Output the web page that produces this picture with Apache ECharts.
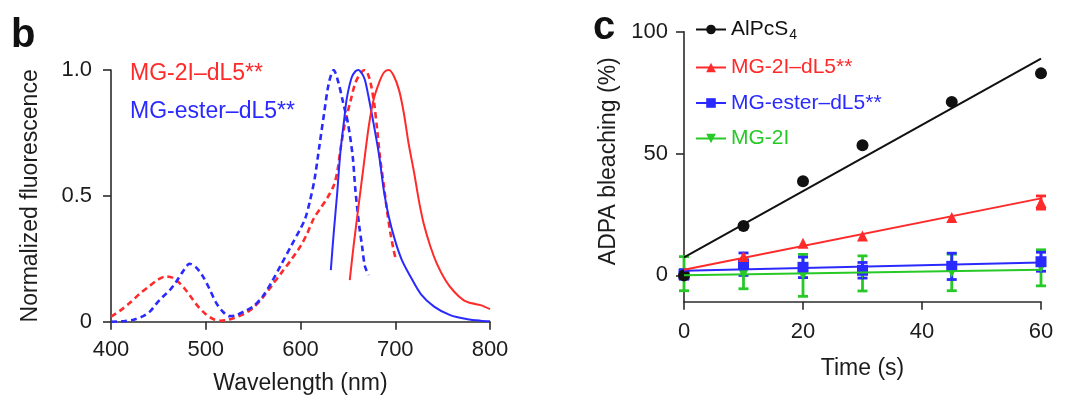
<!DOCTYPE html>
<html>
<head>
<meta charset="utf-8">
<script src="https://cdn.jsdelivr.net/npm/echarts@6.0.0/dist/echarts.min.js"></script>
<style>
  html, body { margin: 0; padding: 0; background: #fff; }
  #chart { width: 1080px; height: 401px; }
</style>
</head>
<body>
<div id="chart"></div>
<script>
// ---- panel b: normalized spectra, [wavelength (nm), value] ----
const ex2I = [[400,0.02],[410,0.045],[420,0.075],[430,0.11],[440,0.14],[450,0.168],[458,0.18],[465,0.175],[470,0.162],[478,0.13],[485,0.095],[492,0.06],[500,0.03],[508,0.01],[515,0.004],[522,0.006],[530,0.015],[540,0.03],[550,0.055],[560,0.095],[570,0.145],[580,0.195],[590,0.245],[600,0.30],[607,0.35],[614,0.41],[621,0.45],[628,0.49],[635,0.54],[639,0.60],[642,0.68],[647,0.79],[653,0.88],[658,0.95],[664,0.99],[668,1.0],[672,0.975],[675,0.93],[678,0.86],[681,0.76],[684,0.65],[688,0.54],[691,0.45],[695,0.35],[698,0.29],[701,0.24]];
const em2I = [[652,0.165],[656,0.30],[661.6,0.47],[667,0.63],[672,0.775],[677,0.88],[683,0.95],[688,0.99],[693,1.0],[698,0.98],[704,0.92],[709,0.83],[714,0.71],[720,0.59],[725,0.48],[730,0.39],[737,0.30],[744,0.23],[753,0.165],[762,0.12],[772,0.086],[781,0.073],[790,0.066],[800,0.05]];
const exEster = [[400,0],[413,0.002],[424,0.008],[434,0.022],[441,0.04],[448,0.072],[455,0.10],[462,0.125],[469,0.16],[476,0.20],[483,0.23],[490,0.215],[497,0.18],[504,0.13],[511,0.075],[518,0.04],[525,0.022],[532,0.025],[540,0.04],[550,0.06],[560,0.10],[570,0.16],[580,0.23],[590,0.30],[600,0.37],[605,0.41],[610,0.48],[615,0.57],[620,0.70],[625,0.83],[630,0.95],[635,1.0],[640,0.95],[645,0.87],[650,0.79],[655,0.66],[658,0.52],[662,0.38],[665,0.30],[668,0.22],[672,0.185]];
const emEster = [[632,0.205],[635,0.35],[638.7,0.51],[642,0.67],[646,0.80],[649,0.89],[654,0.97],[658,0.995],[661,1.0],[665,0.985],[668,0.96],[672,0.89],[677,0.79],[683,0.66],[688,0.52],[693,0.42],[700,0.32],[707,0.245],[716,0.18],[727,0.11],[741,0.06],[758,0.026],[776,0.01],[790,0.004],[800,0.002]];

// ---- panel c: ADPA bleaching (%) vs time (s) ----
const times = [0, 10, 20, 30, 45, 60];
const alpcs = [0, 20.3, 38.6, 53.4, 71.2, 82.9];
const dl2I = [0.9, 7.8, 13.2, 16.2, 23.8, 29.9];
const dl2IErr = [0, 0, 0, 0, 0, 2.7];
const dlEster = [0.4, 4.6, 3.3, 2.1, 3.7, 5.6];
const dlEsterErr = [2.0, 4.6, 4.2, 3.2, 5.4, 3.9];
const free2I = [0.7, 0.5, 0.0, 0.8, 1.2, 3.1];
const free2IErr = [7.0, 6.0, 8.6, 7.2, 7.5, 7.4];
// fitted lines, read at both ends
const fitAlpcs = [[0, 7.4], [60, 89]];
const fit2I = [[0, 2.3], [60, 31.6]];
const fitEster = [[0, 1.9], [60, 5.3]];
const fitFree = [[0, 0.1], [60, 2.3]];
const bleachTicks = [0, 50, 100];

const N_ALPCS = 'AlPcS4';
const N_2I = 'MG-2I–dL5**';
const N_ESTER = 'MG-ester–dL5**';
const N_FREE = 'MG-2I';

const FONT = '"Liberation Sans", Arial, sans-serif';
const RED = '#ff2a2a', BLUE = '#2a2aff', GREEN = '#26c926', BLACK = '#111';
const AXIS = '#2b2b2b', TEXT = '#1c1c1c';

const chart = echarts.init(document.getElementById('chart'));

function errorBars(color) {
  return function (params, api) {
    const x = api.value(0), y = api.value(1), e = api.value(2);
    if (!e) return null;
    const hi = api.coord([x, y + e]);
    const lo = api.coord([x, y - e]);
    const cap = 5;
    const style = { stroke: color, lineWidth: 2.8 };
    return {
      type: 'group',
      children: [
        { type: 'line', shape: { x1: hi[0], y1: hi[1], x2: lo[0], y2: lo[1] }, style: style },
        { type: 'line', shape: { x1: hi[0] - cap, y1: hi[1], x2: hi[0] + cap, y2: hi[1] }, style: style },
        { type: 'line', shape: { x1: lo[0] - cap, y1: lo[1], x2: lo[0] + cap, y2: lo[1] }, style: style }
      ]
    };
  };
}

function group(name, color, vals, errs, fit, symbol, size, rotate) {
  const out = [{
    name: name, type: 'line', xAxisIndex: 1, yAxisIndex: 1, data: fit,
    showSymbol: false, symbol: symbol, symbolSize: size, symbolRotate: rotate || 0,
    lineStyle: { color: color, width: 2 }, itemStyle: { color: color }, silent: true
  }];
  if (errs) {
    out.push({
      name: name, type: 'custom', xAxisIndex: 1, yAxisIndex: 1,
      renderItem: errorBars(color), encode: { x: 0, y: 1 },
      data: times.map((t, i) => [t, vals[i], errs[i]]), silent: true
    });
  }
  out.push({
    name: name, type: 'scatter', xAxisIndex: 1, yAxisIndex: 1,
    data: times.map((t, i) => [t, vals[i]]),
    symbol: symbol, symbolSize: size, symbolRotate: rotate || 0,
    itemStyle: { color: color, opacity: 1 }, silent: true
  });
  return out;
}

function spectrum(name, data, color, dashed) {
  return {
    name: name, type: 'line', xAxisIndex: 0, yAxisIndex: 0, data: data,
    showSymbol: false, smooth: 0.3, silent: true,
    lineStyle: { color: color, width: dashed ? 2.6 : 2, type: dashed ? [6, 4] : 'solid' }
  };
}

const tickLabel = { fontFamily: FONT, fontSize: 22, color: TEXT };
const axisName = { fontFamily: FONT, fontSize: 23, color: TEXT };
const axisLine = { onZero: false, lineStyle: { color: AXIS, width: 1.6 } };
const axisTick = { length: 8, lineStyle: { color: AXIS, width: 1.6 } };

chart.setOption({
  animation: false,
  backgroundColor: '#fff',
  title: [
    { text: 'b', left: 11, top: 16, padding: 0, textStyle: { fontFamily: FONT, fontSize: 40, fontWeight: 'bold', color: BLACK } },
    { text: 'c', left: 593, top: 8, padding: 0, textStyle: { fontFamily: FONT, fontSize: 40, fontWeight: 'bold', color: BLACK } }
  ],
  grid: [
    { left: 111, top: 70, width: 379, height: 251.7 },
    { left: 684, top: 31.7, width: 357, height: 270 }
  ],
  legend: [
    {
      left: 125, top: 62, orient: 'vertical', padding: 0, icon: 'none',
      itemWidth: 0, itemHeight: 0, itemGap: 15.4, selectedMode: false,
      textStyle: { fontFamily: FONT, fontSize: 23 },
      data: [
        { name: N_2I, textStyle: { color: RED } },
        { name: N_ESTER, textStyle: { color: BLUE } }
      ]
    },
    {
      left: 695, top: 19, orient: 'vertical', padding: 0,
      itemWidth: 30, itemHeight: 12, itemGap: 14.5, selectedMode: false,
      textStyle: {
        fontFamily: FONT, fontSize: 21,
        rich: {
          a: { fontFamily: FONT, fontSize: 21, color: BLACK },
          s: { fontFamily: FONT, fontSize: 14, color: BLACK, padding: [12, 0, 0, 1] }
        }
      },
      formatter: n => (n === N_ALPCS ? '{a|AlPcS}{s|4}' : n),
      data: [
        { name: N_ALPCS, textStyle: { color: BLACK } },
        { name: N_2I, textStyle: { color: RED } },
        { name: N_ESTER, textStyle: { color: BLUE } },
        { name: N_FREE, textStyle: { color: GREEN } }
      ]
    }
  ],
  xAxis: [
    {
      type: 'value', gridIndex: 0, min: 400, max: 800, interval: 100,
      name: 'Wavelength (nm)', nameLocation: 'middle', nameGap: 50, nameTextStyle: axisName,
      axisLine: axisLine, axisTick: axisTick, splitLine: { show: false },
      axisLabel: Object.assign({ margin: 17 }, tickLabel)
    },
    {
      type: 'value', gridIndex: 1, min: 0, max: 60, interval: 20,
      name: 'Time (s)', nameLocation: 'middle', nameGap: 55, nameTextStyle: axisName,
      axisLine: axisLine, axisTick: axisTick, splitLine: { show: false },
      axisLabel: Object.assign({ margin: 19 }, tickLabel)
    }
  ],
  yAxis: [
    {
      type: 'value', gridIndex: 0, min: 0, max: 1, interval: 0.5,
      name: 'Normalized fluorescence', nameLocation: 'middle', nameRotate: 90, nameGap: 69,
      nameTextStyle: axisName,
      axisLine: axisLine, axisTick: axisTick, splitLine: { show: false },
      axisLabel: Object.assign({ margin: 19, formatter: v => (v === 0 ? '0' : v.toFixed(1)) }, tickLabel)
    },
    {
      type: 'value', gridIndex: 1, min: -10.8, max: 100,
      name: 'ADPA bleaching (%)', nameLocation: 'middle', nameRotate: 90, nameGap: 64,
      nameTextStyle: Object.assign({ padding: [0, 0, 0, 11] }, axisName),
      axisLine: axisLine, splitLine: { show: false },
      axisTick: Object.assign({ customValues: bleachTicks }, axisTick),
      axisLabel: Object.assign({ margin: 16, customValues: bleachTicks }, tickLabel)
    }
  ],
  series: [].concat(
    group(N_FREE, GREEN, free2I, free2IErr, fitFree, 'triangle', 10, 180),
    group(N_ESTER, BLUE, dlEster, dlEsterErr, fitEster, 'rect', 11),
    group(N_2I, RED, dl2I, dl2IErr, fit2I, 'triangle', 11),
    group(N_ALPCS, BLACK, alpcs, null, fitAlpcs, 'circle', 12),
    [
      spectrum(N_2I, ex2I, RED, true),
      spectrum(N_ESTER, exEster, BLUE, true),
      spectrum(N_ESTER, emEster, BLUE, false),
      spectrum(N_2I, em2I, RED, false)
    ]
  )
});
</script>
</body>
</html>
